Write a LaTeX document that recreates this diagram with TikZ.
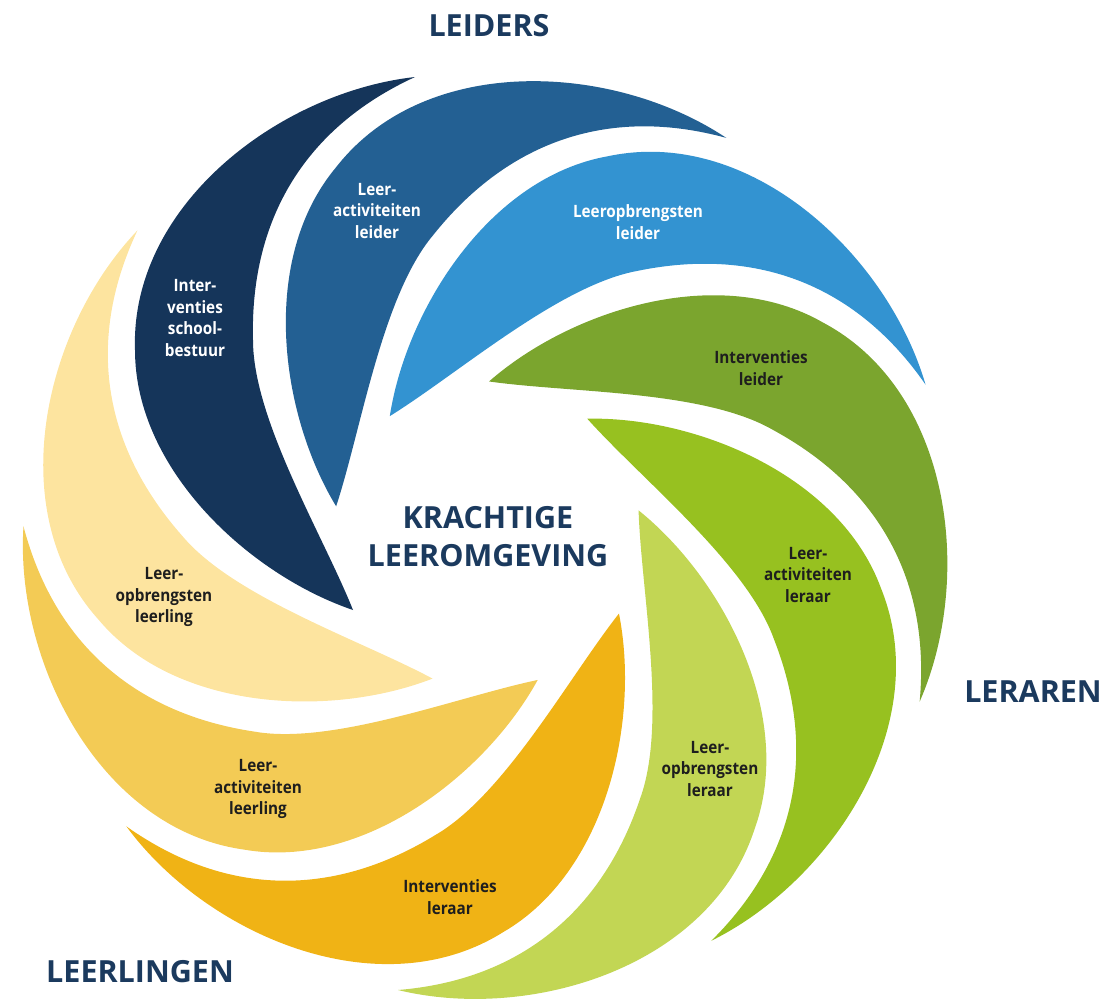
\documentclass[tikz,border=0pt]{standalone}
\usepackage{fontspec}
\newfontfamily\labelfont{Open Sans}[FakeStretch=0.9]
\newfontfamily\titlefont{Open Sans}
\usetikzlibrary{calc}

\definecolor{darkblue}{HTML}{15355A}
\definecolor{midblue}{HTML}{236093}
\definecolor{lightblue}{HTML}{3393D1}
\definecolor{olivegreen}{HTML}{7BA52E}
\definecolor{grassgreen}{HTML}{97C120}
\definecolor{limegreen}{HTML}{C2D654}
\definecolor{orangeyellow}{HTML}{F0B315}
\definecolor{sunyellow}{HTML}{F3CB55}
\definecolor{paleyellow}{HTML}{FDE49F}
\definecolor{titleblue}{HTML}{1B3A5E}
\definecolor{darktext}{HTML}{1E1E1E}

\begin{document}
\begin{tikzpicture}[x=1pt,y=-1pt,
    lbl/.style={font=\labelfont\bfseries\fontsize{17}{21.5}\selectfont,
      align=center,text=darktext},
    group/.style={font=\titlefont\bfseries\fontsize{30.5}{38}\selectfont,
      align=center,text=titleblue}]
  \useasboundingbox (0,0) rectangle (1107,1001);
  \coordinate (c) at (487,535);

  % one petal, turned round the centre nine times
  \foreach \a/\col in {0/darkblue,-40/midblue,-80/lightblue,-120/olivegreen,
      -160/grassgreen,-200/limegreen,-240/orangeyellow,-280/sunyellow,
      -320/paleyellow}{
    \begin{scope}[rotate around={\a:(c)}]
      \coordinate (tipout) at (415,77);
      \coordinate (tipin) at (353,610);
      \fill[\col] (tipout) .. controls (280,92) and (130,205) .. (135,350)
        .. controls (135,470) and (250,575) .. (tipin)
        .. controls (323,535) and (253,420) .. (253,340)
        .. controls (250,225) and (300,130) .. (tipout) -- cycle;
    \end{scope}
  }

  \node[lbl,text=white] (schoolbestuur) at (195,318) {Inter-\\venties\\school-\\bestuur};
  \node[lbl,text=white] (actleider) at (377,211) {Leer-\\activiteiten\\leider};
  \node[lbl,text=white] (opbrleider) at (638,222) {Leeropbrengsten\\leider};
  \node[lbl] (intleider) at (761,368) {Interventies\\leider};
  \node[lbl] (actleraar) at (808,575) {Leer-\\activiteiten\\leraar};
  \node[lbl] (opbrleraar) at (710,769) {Leer-\\opbrengsten\\leraar};
  \node[lbl] (intleraar) at (450,897) {Interventies\\leraar};
  \node[lbl] (actleerling) at (258,789) {Leer-\\activiteiten\\leerling};
  \node[lbl] (opbrleerling) at (164,597) {Leer-\\opbrengsten\\leerling};

  \node[group] (kern) at (488,537) {KRACHTIGE\\LEEROMGEVING};
  \node[group] (leiders) at (489,26) {LEIDERS};
  \node[group] (leraren) at (1033,692) {LERAREN};
  \node[group] (leerlingen) at (140,972) {LEERLINGEN};
\end{tikzpicture}
\end{document}
